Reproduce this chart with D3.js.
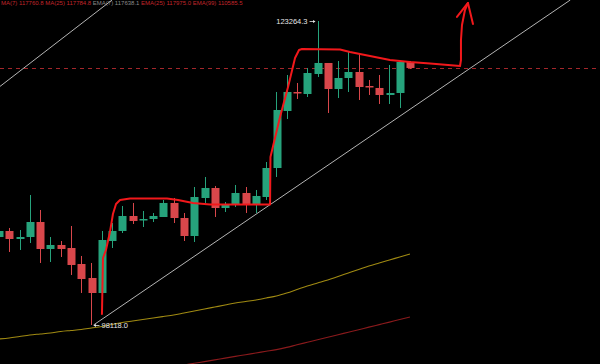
<!DOCTYPE html>
<html>
<head>
<meta charset="utf-8">
<script src="https://cdn.jsdelivr.net/npm/d3@7"></script>
<style>
  html, body { margin: 0; padding: 0; background: #000; }
  svg { display: block; }
</style>
</head>
<body>
<svg id="chart" width="600" height="364"></svg>
<script>
// K线数据 (开, 高, 低, 收)
const opens = [105397, 105894, 105232, 105397, 106638, 104405, 104736, 104487, 103164, 102006,
  100765, 105066, 105894, 107134, 106804, 106886, 107052, 108211, 106969, 105480,
  108623, 109451, 107796, 108044, 109037, 108044, 108706, 111105, 115820, 117392,
  117226, 118881, 119791, 117640, 118550, 119046, 117888, 117723, 117144, 117309, 119873]
const highs = [106142, 106142, 105976, 108872, 107631, 105397, 105066, 106307, 103826, 103247,
  105894, 106555, 107962, 108211, 107548, 107383, 108458, 108624, 107383, 109533,
  110361, 109616, 108293, 109699, 109533, 109285, 111601, 117392, 118798, 118136,
  119377, 123264.3, 119791, 119956, 120701, 120618, 118384, 118798, 119625, 119873, 119956]
const lows = [105149, 104157, 104322, 104901, 103247, 103329, 103743, 102254, 100765, 98118,
  99938, 104487, 105728, 106473, 106224, 106638, 107052, 106555, 105066, 104984,
  108211, 107052, 107465, 107879, 107383, 107383, 108458, 110361, 115158, 116813,
  116978, 118633, 115655, 116895, 117392, 116730, 117144, 116399, 116399, 116068, 119294]
const closes = [105894, 105232, 105397, 106638, 104405, 104736, 104405, 103081, 101923, 100765,
  105149, 105894, 107134, 106721, 106886, 107134, 108211, 106969, 105480, 108706,
  109451, 107796, 108044, 109037, 108044, 108789, 111105, 115903, 117392, 117309,
  118963, 119791, 117640, 118550, 119046, 117805, 117805, 117144, 117309, 119873, 119377]

// 均线
const maSlow = [96960, 97043, 97167, 97291, 97374, 97456, 97580, 97663, 97746, 97870,
  97994, 98160, 98325, 98449, 98573, 98697, 98821, 98945, 99111, 99276,
  99442, 99607, 99772, 99938, 100062, 100186, 100351, 100517, 100765, 101054,
  101344, 101592, 101840, 102130, 102419, 102708, 102998, 103247, 103495, 103743, 103991]
const maLong = [92253, 92394, 92534, 92675, 92824, 92964, 93105, 93245, 93386, 93535,
  93675, 93817, 93957, 94098, 94239, 94379, 94528, 94669, 94809, 94950,
  95090, 95231, 95380, 95521, 95661, 95802, 95942, 96083, 96265, 96480,
  96687, 96894, 97109, 97316, 97522, 97729, 97944, 98151, 98358, 98573, 98780]

// 趋势线 (索引, 价格)
const trendLower = [[9.2, 98118], [55.6, 125002]]
const trendUpper = [[-0.5, 117462], [11.0, 125002]]

// 手绘红线
const handPath = [[10.02, 99028], [10.12, 103660], [10.41, 104322], [10.8, 105813], [11.09, 107300],
  [11.39, 108127], [11.78, 108458], [12.75, 108582], [16.35, 108582], [17.42, 108458],
  [18.88, 108211], [20.54, 108086], [26.38, 108086], [26.42, 112015], [27.35, 115324],
  [28.13, 117805], [28.81, 120204], [29.2, 120866], [29.49, 120949], [33.19, 120907],
  [34.16, 120701], [38.05, 120040], [40.0, 119873], [41.95, 119750], [44.87, 119543],
  [44.96, 120039], [44.96, 121694], [45.06, 122934], [45.35, 124175], [45.64, 124754]]
const handArrow = [[44.57, 123596], [45.64, 124754], [46.13, 123017]]

const highLabel = '123264.3'
const lowLabel = '98118.0'
const legendParts = [
  { text: 'MA(7) 117760.8  MA(25) 117784.8', color: '#c0262b' },
  { text: '  EMA(7) 117638.1', color: '#8a8a8a' },
  { text: '  EMA(25) 117975.0  EMA(99) 110585.5', color: '#c0262b' }
]

const style = {
  width: 600,
  height: 364,
  up: '#26a37c',
  down: '#d9474b',
  bodyRatio: 0.76,
  font: '"Liberation Sans", Arial, sans-serif'
}

const svg = d3.select('#chart')
svg.append('rect').attr('width', style.width).attr('height', style.height).attr('fill', '#000')

const candles = opens.map((o, i) => ({ i: i, o: o, h: highs[i], l: lows[i], c: closes[i] }))

const x = d3.scaleLinear().domain([0, 40]).range([-1, 410])
const y = d3.scaleLinear().domain([98118, 123264.3]).range([325, 21])

const step = x(1) - x(0)
const bodyW = step * style.bodyRatio

// 顶部图例
const legend = svg.append('text')
  .attr('x', 1).attr('y', 5)
  .attr('font-family', style.font)
  .attr('font-size', '6px')
legend.selectAll('tspan').data(legendParts).enter().append('tspan')
  .attr('fill', (d) => d.color)
  .text((d) => d.text)

// 均线
const lineGen = d3.line().x((d, i) => x(i)).y((d) => y(d)).curve(d3.curveMonotoneX)
svg.append('path').datum(maSlow)
  .attr('d', lineGen).attr('fill', 'none')
  .attr('stroke', '#a08a12').attr('stroke-width', 1.1)
svg.append('path').datum(maLong)
  .attr('d', lineGen).attr('fill', 'none')
  .attr('stroke', '#8a1a1c').attr('stroke-width', 1.1)

// 现价虚线
const lastClose = closes[closes.length - 1]
svg.append('line')
  .attr('x1', 0).attr('x2', style.width)
  .attr('y1', Math.round(y(lastClose)) + 0.5).attr('y2', Math.round(y(lastClose)) + 0.5)
  .attr('stroke', '#a3262a').attr('stroke-width', 1)
  .attr('stroke-dasharray', '4,4')

// 趋势线
const ptLine = d3.line().x((d) => x(d[0])).y((d) => y(d[1]))
;[trendLower, trendUpper].forEach((t) => {
  svg.append('path').datum(t)
    .attr('d', ptLine).attr('fill', 'none')
    .attr('stroke', '#b4b4b4').attr('stroke-width', 1)
})

// K线
const g = svg.append('g').selectAll('g').data(candles).enter().append('g')
g.append('line')
  .attr('x1', (d) => Math.round(x(d.i)) + 0.5)
  .attr('x2', (d) => Math.round(x(d.i)) + 0.5)
  .attr('y1', (d) => y(d.h))
  .attr('y2', (d) => y(d.l))
  .attr('stroke', (d) => d.c >= d.o ? style.up : style.down)
  .attr('stroke-width', 1)
g.append('rect')
  .attr('x', (d) => Math.round(x(d.i) - bodyW / 2) + 0.5)
  .attr('width', Math.round(bodyW))
  .attr('y', (d) => y(Math.max(d.o, d.c)))
  .attr('height', (d) => Math.max(1.5, Math.abs(y(d.o) - y(d.c))))
  .attr('fill', (d) => d.c >= d.o ? style.up : style.down)

// 手绘红线与箭头 (盖在K线上)
svg.append('path').datum(handPath)
  .attr('d', ptLine).attr('fill', 'none')
  .attr('stroke', '#f2181b').attr('stroke-width', 2)
  .attr('stroke-linejoin', 'round').attr('stroke-linecap', 'round')
svg.append('path').datum(handArrow)
  .attr('d', ptLine).attr('fill', 'none')
  .attr('stroke', '#f2181b').attr('stroke-width', 2)
  .attr('stroke-linejoin', 'round').attr('stroke-linecap', 'round')

// 最高 / 最低标签
const hi = candles[d3.maxIndex(highs)]
const lo = candles[d3.minIndex(lows)]
const labelColor = '#e6e6e6'
svg.append('text')
  .attr('x', x(hi.i) - 10).attr('y', y(hi.h) + 2.5)
  .attr('text-anchor', 'end')
  .attr('font-family', style.font).attr('font-size', '7.5px')
  .attr('fill', labelColor)
  .text(highLabel)
svg.append('line')
  .attr('x1', x(hi.i) - 8).attr('x2', x(hi.i) - 3)
  .attr('y1', y(hi.h) + 0.5).attr('y2', y(hi.h) + 0.5)
  .attr('stroke', labelColor).attr('stroke-width', 0.8)
svg.append('path')
  .attr('d', `M${x(hi.i) - 2},${y(hi.h) + 0.5} l-2.5,-1.6 l0,3.2 z`)
  .attr('fill', labelColor)

svg.append('line')
  .attr('x1', x(lo.i) + 3).attr('x2', x(lo.i) + 8)
  .attr('y1', y(lo.l) + 0.5).attr('y2', y(lo.l) + 0.5)
  .attr('stroke', labelColor).attr('stroke-width', 0.8)
svg.append('path')
  .attr('d', `M${x(lo.i) + 2},${y(lo.l) + 0.5} l2.5,-1.6 l0,3.2 z`)
  .attr('fill', labelColor)
svg.append('text')
  .attr('x', x(lo.i) + 10).attr('y', y(lo.l) + 3)
  .attr('font-family', style.font).attr('font-size', '7.5px')
  .attr('fill', labelColor)
  .text(lowLabel)
</script>
</body>
</html>
